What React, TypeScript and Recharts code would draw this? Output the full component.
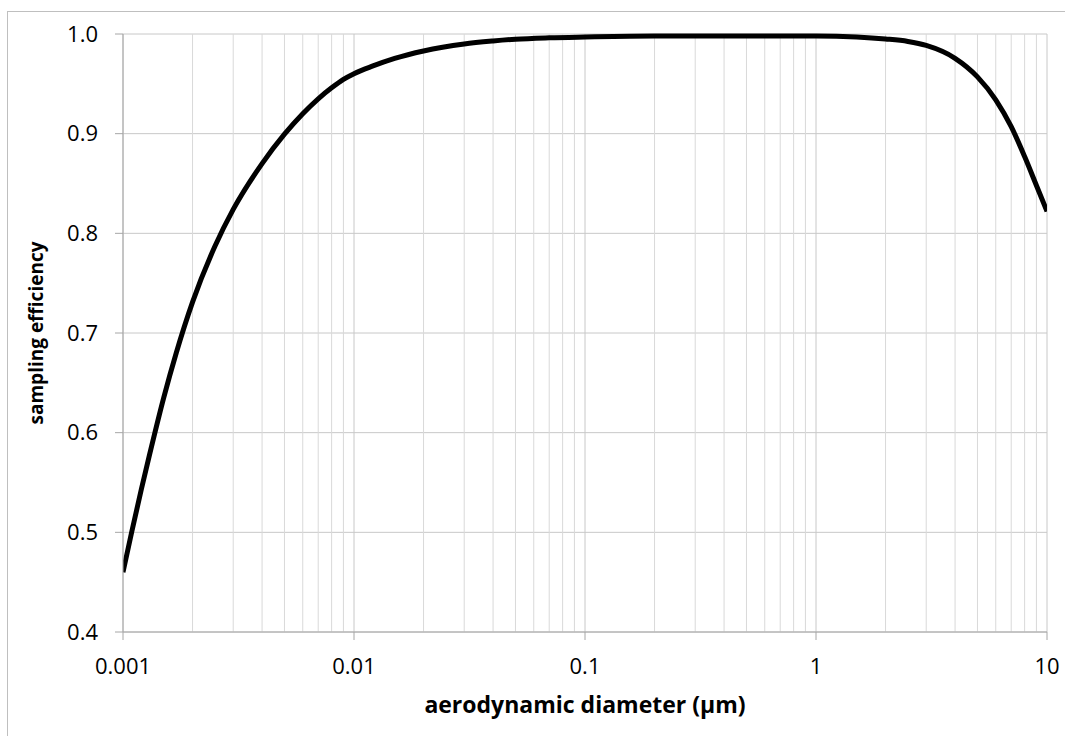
import { LineChart, Line, XAxis, YAxis, CartesianGrid, ReferenceLine, Label } from "recharts";

// aerodynamic diameter (µm) and sampling efficiency
const diameters = [0.001, 0.00109, 0.0012, 0.0013, 0.0015, 0.0017, 0.002, 0.0025, 0.003, 0.004, 0.005, 0.006, 0.007, 0.008, 0.009, 0.01, 0.012, 0.015, 0.02, 0.03, 0.04, 0.05, 0.07, 0.1, 0.2, 0.5, 1, 1.5, 2, 2.5, 3, 4, 5, 6, 7, 8, 9, 10];
const efficiency = [0.46, 0.5, 0.543, 0.577, 0.635, 0.68, 0.731, 0.787, 0.824, 0.87, 0.8995, 0.92, 0.935, 0.946, 0.9545, 0.9602, 0.9677, 0.9755, 0.983, 0.99, 0.993, 0.9948, 0.9962, 0.997, 0.998, 0.998, 0.998, 0.997, 0.995, 0.9925, 0.9885, 0.9756, 0.957, 0.934, 0.907, 0.877, 0.848, 0.822];

const xTicks = [0.001, 0.01, 0.1, 1, 10];
const yTicks = [0.4, 0.5, 0.6, 0.7, 0.8, 0.9, 1.0];
const minorX = [
  0.002, 0.003, 0.004, 0.005, 0.006, 0.007, 0.008, 0.009,
  0.02, 0.03, 0.04, 0.05, 0.06, 0.07, 0.08, 0.09,
  0.2, 0.3, 0.4, 0.5, 0.6, 0.7, 0.8, 0.9,
  2, 3, 4, 5, 6, 7, 8, 9,
];

const data = diameters.map((d, i) => ({ d, eff: efficiency[i] }));

const font = "'Open Sans', sans-serif";
const tickStyle = { fontSize: 22, fill: "#000", fontFamily: font };

export default function App() {
  return (
    <div style={{ position: "absolute", left: 0, top: 0, width: 1065, height: 736, background: "#fff", overflow: "hidden" }}>
      <div style={{ position: "absolute", left: 7, top: 11, width: 1080, height: 760, border: "1px solid #bfbfbf" }} />
      <div style={{ position: "absolute", left: 0, top: 0 }}>
        <LineChart width={1065} height={736} data={data} margin={{ top: 34, right: 18, bottom: 0, left: 0 }}>
          <CartesianGrid stroke="#c8c8c8" />
          {minorX.map((v) => (
            <ReferenceLine key={v} x={v} stroke="#d9d9d9" strokeWidth={1} />
          ))}
          <XAxis
            dataKey="d"
            type="number"
            scale="log"
            domain={[0.001, 10]}
            ticks={xTicks}
            allowDataOverflow
            tickFormatter={(v: number) => String(v)}
            tick={tickStyle}
            tickSize={8}
            tickMargin={18}
            stroke="#a6a6a6"
            height={104}
          >
            <Label
              value="aerodynamic diameter (μm)"
              position="insideBottom"
              offset={23}
              style={{ fontSize: 23, fontWeight: "bold", fill: "#000", fontFamily: font }}
            />
          </XAxis>
          <YAxis
            type="number"
            domain={[0.4, 1]}
            ticks={yTicks}
            tickFormatter={(v: number) => v.toFixed(1)}
            tick={tickStyle}
            tickSize={8}
            tickMargin={17}
            stroke="#a6a6a6"
            width={123}
          >
            <Label
              value="sampling efficiency"
              angle={-90}
              position="insideLeft"
              offset={36}
              style={{ textAnchor: "middle", fontSize: 19, fontWeight: "bold", fill: "#000", fontFamily: font }}
            />
          </YAxis>
          <Line
            type="monotone"
            dataKey="eff"
            stroke="#000"
            strokeWidth={5}
            dot={false}
            isAnimationActive={false}
          />
        </LineChart>
      </div>
    </div>
  );
}
